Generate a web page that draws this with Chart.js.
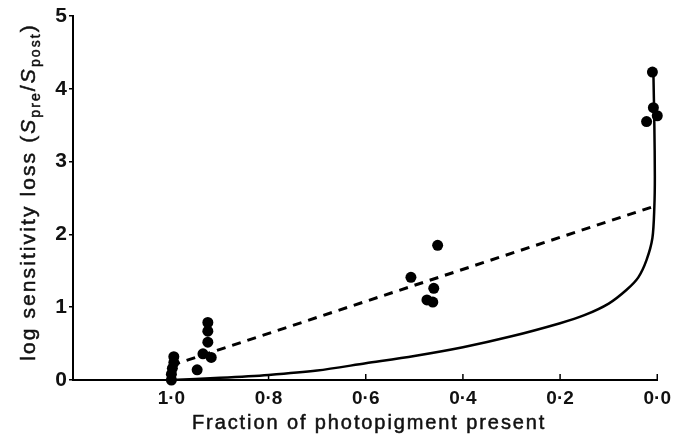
<!DOCTYPE html>
<html>
<head>
<meta charset="utf-8">
<script src="https://cdn.jsdelivr.net/npm/chart.js@4/dist/chart.umd.min.js"></script>
<style>
  html, body { margin: 0; padding: 0; background: #fff; }
  #wrap { width: 678px; height: 439px; }
</style>
</head>
<body>
<div id="wrap"><canvas id="chart"></canvas></div>
<script>
// Measured points (x = fraction present, y = log loss)
const pointsX = [0.995, 0.995, 0.998, 1.0, 1.0,
                 0.925, 0.925, 0.925, 0.935, 0.918, 0.947,
                 0.507, 0.452, 0.46, 0.474, 0.462,
                 0.01, 0.008, 0.0, 0.022];
const pointsY = [0.32, 0.24, 0.16, 0.08, 0.0,
                 0.79, 0.67, 0.52, 0.36, 0.31, 0.14,
                 1.41, 1.85, 1.26, 1.1, 1.07,
                 4.23, 3.74, 3.63, 3.55];

// Dashed fit line
const dashX = [1.0, 0.0];
const dashY = [0.2, 2.4];

// Solid curve (traced)
const curveX = [1.0, 0.9, 0.8, 0.7, 0.6, 0.5, 0.4, 0.3, 0.2, 0.15, 0.1,
                0.063, 0.039, 0.022, 0.01, 0.006, 0.005, 0.006, 0.008];
const curveY = [0.0, 0.03, 0.07, 0.13, 0.23, 0.33, 0.45, 0.6, 0.78, 0.89, 1.05,
                1.24, 1.41, 1.65, 1.95, 2.38, 2.8, 3.5, 4.23];

const xTicks = [1.0, 0.8, 0.6, 0.4, 0.2, 0.0];
const yTicks = [0, 1, 2, 3, 4, 5];

const FONT = '"Liberation Sans", Arial, Helvetica, sans-serif';

const zip = (xs, ys) => xs.map((x, i) => ({ x: x, y: ys[i] }));
const fmt = v => v.toFixed(1).replace('.', '\u00b7');

// draw a run of text pieces, spaced out like the old typeset labels
function drawRun(ctx, parts, spacing, cx, cy) {
    let total = 0;
    parts.forEach(p => {
        ctx.font = p.f;
        ctx.letterSpacing = '0px';
        p.w = ctx.measureText(p.t).width + spacing * p.t.length;
        total += p.w;
    });
    let x = cx - total / 2;
    ctx.letterSpacing = spacing + 'px';
    parts.forEach(p => {
        ctx.font = p.f;
        ctx.fillText(p.t, x, cy + (p.dy || 0));
        ctx.strokeText(p.t, x, cy + (p.dy || 0));
        x += p.w;
    });
    ctx.letterSpacing = '0px';
}

// small upward tick marks on the x axis, and the two axis titles
const axisExtras = {
    id: 'axisExtras',
    afterDraw(chart) {
        const ctx = chart.ctx;
        const xs = chart.scales.x;
        const area = chart.chartArea;
        ctx.save();
        ctx.strokeStyle = '#000';
        ctx.lineWidth = 1.5;
        xTicks.forEach(v => {
            const px = xs.getPixelForValue(v);
            ctx.beginPath();
            ctx.moveTo(px, area.bottom);
            ctx.lineTo(px, area.bottom - 6);
            ctx.stroke();
        });

        ctx.fillStyle = '#111';
        ctx.strokeStyle = '#111';
        ctx.lineWidth = 0.5;
        ctx.textBaseline = 'alphabetic';
        ctx.textAlign = 'left';

        // x title
        drawRun(ctx, [{ t: 'Fraction of photopigment present', f: '20px ' + FONT }],
            1.9, (area.left + area.right) / 2 + 4, 429);

        // y title
        ctx.translate(35, (area.top + area.bottom) / 2 - 6);
        ctx.rotate(-Math.PI / 2);
        drawRun(ctx, [
            { t: 'log sensitivity loss (', f: '21px ' + FONT },
            { t: 'S', f: 'italic 21px ' + FONT },
            { t: 'pre', f: '14px ' + FONT, dy: 5 },
            { t: '/', f: '21px ' + FONT },
            { t: 'S', f: 'italic 21px ' + FONT },
            { t: 'post', f: '14px ' + FONT, dy: 5 },
            { t: ')', f: '21px ' + FONT }
        ], 2.1, 0, 0);
        ctx.restore();
    }
};

new Chart(document.getElementById('chart'), {
    type: 'scatter',
    data: {
        datasets: [
            {
                label: 'measured',
                data: zip(pointsX, pointsY),
                backgroundColor: '#000',
                borderColor: '#000',
                pointRadius: 5.5,
                pointBorderWidth: 0,
                clip: false,
                order: 0
            },
            {
                label: 'fit',
                type: 'line',
                data: zip(dashX, dashY),
                borderColor: '#000',
                borderWidth: 3,
                borderDash: [9, 7],
                pointRadius: 0,
                fill: false,
                order: 1
            },
            {
                label: 'model',
                type: 'line',
                data: zip(curveX, curveY),
                borderColor: '#000',
                borderWidth: 2.5,
                pointRadius: 0,
                tension: 0.3,
                fill: false,
                clip: false,
                order: 2
            }
        ]
    },
    options: {
        responsive: true,
        maintainAspectRatio: false,
        animation: false,
        layout: { padding: { top: 16, right: 17, left: 0, bottom: 0 } },
        plugins: {
            legend: { display: false },
            tooltip: { enabled: false }
        },
        scales: {
            x: {
                type: 'linear',
                reverse: true,
                min: 0,
                max: 1.2025,
                afterFit: s => { s.height = 59; },
                afterBuildTicks: s => { s.ticks = xTicks.map(v => ({ value: v })); },
                grid: { display: true, drawOnChartArea: false, drawTicks: false },
                border: { display: true, color: '#000', width: 2 },
                ticks: {
                    padding: 7,
                    color: '#111',
                    font: { family: FONT, size: 19, weight: 'bold' },
                    maxRotation: 0,
                    callback: v => fmt(v)
                }
            },
            y: {
                min: 0,
                max: 5,
                afterFit: s => { s.width = 73; },
                afterBuildTicks: s => { s.ticks = yTicks.map(v => ({ value: v })); },
                grid: { display: true, drawOnChartArea: false, drawTicks: true, tickLength: 4, color: '#000', lineWidth: 1.5 },
                border: { display: true, color: '#000', width: 2 },
                ticks: {
                    padding: 2,
                    color: '#111',
                    font: { family: FONT, size: 21, weight: 'bold' },
                    callback: v => String(v)
                }
            }
        }
    },
    plugins: [axisExtras]
});
</script>
</body>
</html>
